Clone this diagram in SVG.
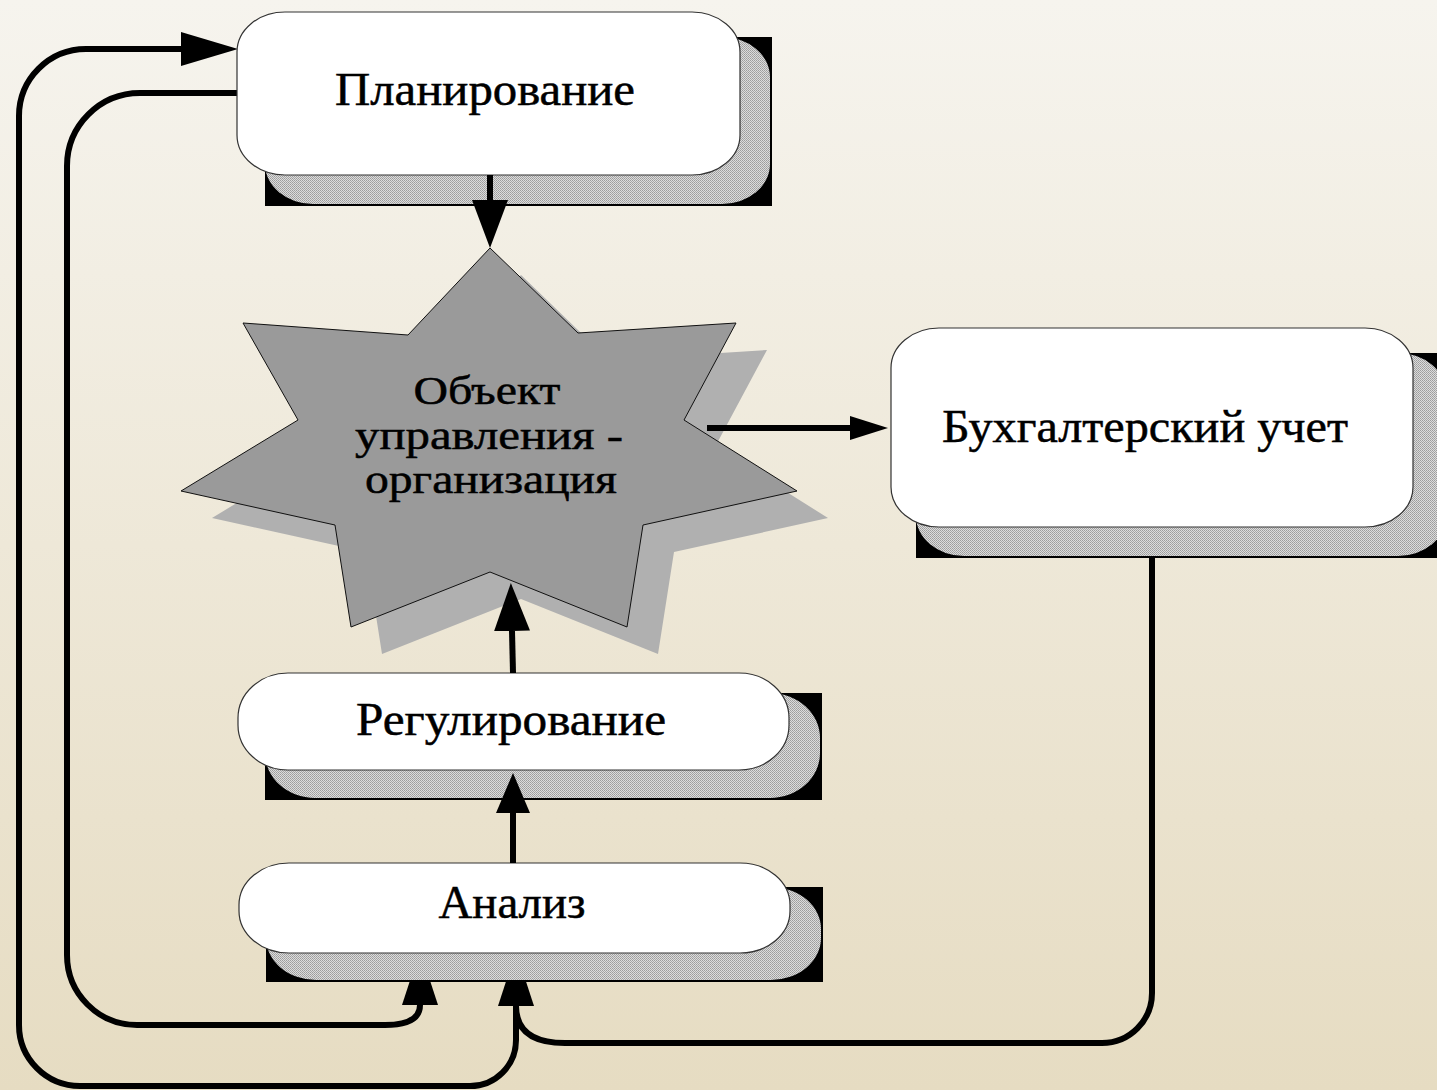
<svg xmlns="http://www.w3.org/2000/svg" width="1437" height="1090" viewBox="0 0 1437 1090">
<defs>
<linearGradient id="bg" x1="0" y1="0" x2="0" y2="1">
<stop offset="0" stop-color="#f6f4ee"/>
<stop offset="1" stop-color="#e6dcc2"/>
</linearGradient>
<pattern id="dots" width="2" height="2" patternUnits="userSpaceOnUse">
<rect width="2" height="2" fill="#dcdcdc"/>
<rect width="1" height="1" fill="#9c9c9c"/>
<rect x="1" y="1" width="1" height="1" fill="#a8a8a8"/>
</pattern>
<marker id="aL" viewBox="0 0 48 36" refX="0" refY="18" markerWidth="48" markerHeight="36" markerUnits="userSpaceOnUse" orient="auto"><path d="M0,0 L48,18 L0,36 z" fill="#000"/></marker>
<marker id="aS" viewBox="0 0 38 24" refX="0" refY="12" markerWidth="38" markerHeight="24" markerUnits="userSpaceOnUse" orient="auto"><path d="M0,0 L38,12 L0,24 z" fill="#000"/></marker>
<marker id="aM" viewBox="0 0 40 34" refX="0" refY="17" markerWidth="40" markerHeight="34" markerUnits="userSpaceOnUse" orient="auto"><path d="M0,0 L40,17 L0,34 z" fill="#000"/></marker>
<marker id="aX" viewBox="0 0 55 36" refX="0" refY="18" markerWidth="55" markerHeight="36" markerUnits="userSpaceOnUse" orient="auto"><path d="M0,0 L55,18 L0,36 z" fill="#000"/></marker>
<marker id="aP" viewBox="0 0 57 34" refX="0" refY="17" markerWidth="57" markerHeight="34" markerUnits="userSpaceOnUse" orient="auto"><path d="M0,0 L57,17 L0,34 z" fill="#000"/></marker>
</defs>
<style>
.box{fill:#ffffff;stroke:#333333;stroke-width:1.2}
.blk{fill:#000000}
.shd{fill:url(#dots)}
.lbl{font-family:"Liberation Serif","Times New Roman",serif;font-size:46px;fill:#000;stroke:#000;stroke-width:0.5;text-anchor:middle}
.slbl{font-size:40px}
.con{fill:none;stroke:#000;stroke-width:6}
.star{fill:#9a9a9a;stroke:#111;stroke-width:1}
.starsh{fill:#b0b0b0}
</style>
<rect width="1437" height="1090" fill="url(#bg)"/>

<g id="connectors">
<path class="con" d="M1152,527 L1152,993 A50,50 0 0 1 1102,1043 L565,1043 Q516,1043 516,1006" marker-end="url(#aX)"/>
<path class="con" d="M516,1006 L516,1040 A46,46 0 0 1 470,1086 L80,1086 A61,61 0 0 1 19,1025 L19,116 A67,67 0 0 1 86,49 L181,49" marker-end="url(#aP)"/>
<path class="con" d="M238,93 L140,93 A73,73 0 0 0 67,166 L67,955 A70,70 0 0 0 137,1025 L385,1025 Q420,1025 420,1005" marker-end="url(#aX)"/>
</g>

<g id="planning">
<rect class="blk" x="265" y="37" width="507" height="169"/>
<rect class="shd" x="265" y="37" width="505" height="167" rx="48" ry="40"/>
<rect class="box" x="237" y="12" width="503" height="163" rx="48" ry="40"/>
<text class="lbl" x="485" y="105" textLength="300" lengthAdjust="spacingAndGlyphs">Планирование</text>
</g>

<g id="object">
<polygon class="starsh" transform="translate(31,27)" points="490,248 578,333 736,323 684,420 797,491 643,525 627,627 490,572 351,627 335,525 181,491 298,420 243,323 408,335"/>
<polygon class="star" points="490,248 578,333 736,323 684,420 797,491 643,525 627,627 490,572 351,627 335,525 181,491 298,420 243,323 408,335"/>
<text class="lbl slbl" x="487" y="404" textLength="147" lengthAdjust="spacingAndGlyphs">Объект</text>
<text class="lbl slbl" x="489" y="448.5" textLength="268" lengthAdjust="spacingAndGlyphs">управления -</text>
<text class="lbl slbl" x="491" y="493" textLength="252" lengthAdjust="spacingAndGlyphs">организация</text>
</g>

<g id="accounting">
<rect class="blk" x="916" y="353" width="521" height="205"/>
<rect class="shd" x="916" y="353" width="530" height="203" rx="48" ry="40"/>
<rect class="box" x="891" y="328" width="522" height="199" rx="48" ry="40"/>
<text class="lbl" x="1145" y="442" textLength="406" lengthAdjust="spacingAndGlyphs">Бухгалтерский учет</text>
</g>

<g id="regulation">
<rect class="blk" x="265" y="693" width="557" height="107"/>
<rect class="shd" x="265" y="693" width="555" height="105" rx="50" ry="45"/>
<rect class="box" x="238" y="673" width="551" height="97" rx="50" ry="45"/>
<text class="lbl" x="511" y="735" textLength="310" lengthAdjust="spacingAndGlyphs">Регулирование</text>
</g>

<g id="analysis">
<rect class="blk" x="266" y="887" width="557" height="95"/>
<rect class="shd" x="266" y="887" width="555" height="93" rx="50" ry="42"/>
<rect class="box" x="239" y="863" width="551" height="90" rx="50" ry="42"/>
<text class="lbl" x="512" y="918" textLength="147" lengthAdjust="spacingAndGlyphs">Анализ</text>
</g>

<g id="arrows">
<path class="con" d="M490,175 L490,200" marker-end="url(#aL)"/>
<path class="con" d="M707,428 L850,428" marker-end="url(#aS)"/>
<path class="con" d="M513,673 L512,631" marker-end="url(#aL)"/>
<path class="con" d="M513,863 L513,813" marker-end="url(#aM)"/>
</g>
</svg>
